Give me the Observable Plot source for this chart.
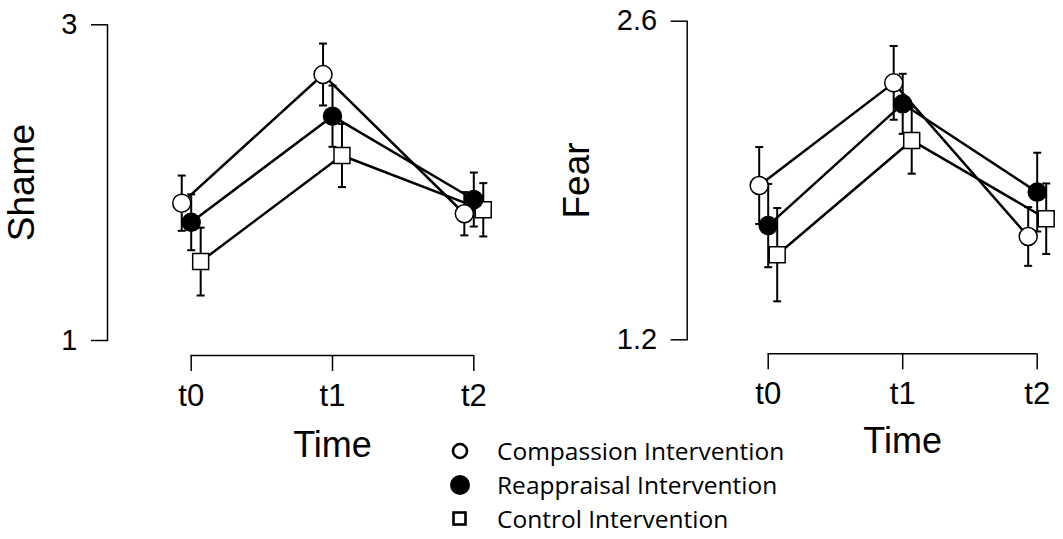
<!DOCTYPE html>
<html><head><meta charset="utf-8">
<script src="https://cdn.jsdelivr.net/npm/d3@7"></script>
<script src="https://cdn.jsdelivr.net/npm/@observablehq/plot@0.6"></script>
<style>
body{margin:0;background:#fff;}
#wrap{position:relative;width:1063px;height:539px;overflow:hidden;background:#fff;}
#left{position:absolute;left:0;top:0;}
#right{position:absolute;left:530px;top:0;}
#legend{position:absolute;left:448px;top:433.5px;font-family:"Open Sans", Lato, sans-serif;font-size:24.5px;color:#000;}
.row{display:flex;align-items:center;height:34px;}
.row svg{flex:none;}
.row span{margin-left:25px;white-space:nowrap;}
</style></head>
<body><div id="wrap"><div id="left"></div><div id="right"></div><div id="legend"></div></div>
<script>
// ---- data ----
const times = ["t0", "t1", "t2"];
const groups = ["Compassion Intervention", "Reappraisal Intervention", "Control Intervention"];

const shameCompassion     = [1.870, 2.685, 1.803];
const shameCompassionSE   = [0.175, 0.196, 0.137];
const shameReappraisal    = [1.749, 2.421, 1.893];
const shameReappraisalSE  = [0.177, 0.194, 0.171];
const shameControl        = [1.500, 2.172, 1.828];
const shameControlSE      = [0.215, 0.200, 0.169];

const fearCompassion      = [1.878, 2.329, 1.654];
const fearCompassionSE    = [0.169, 0.162, 0.129];
const fearReappraisal     = [1.702, 2.237, 1.849];
const fearReappraisalSE   = [0.183, 0.132, 0.173];
const fearControl         = [1.574, 2.076, 1.732];
const fearControlSE       = [0.205, 0.146, 0.155];

const shameTicks = [1, 3];
const fearTicks = [1.2, 2.6];

// ---- build tables ----
const dodge = [-0.067, 0, 0.067];
function table(series) {
  const rows = [];
  series.forEach(([means, ses], g) => {
    means.forEach((m, i) => rows.push({group: groups[g], g, t: i, xd: i + dodge[g], mean: m, se: ses[i]}));
  });
  return rows;
}
const shameRows = table([[shameCompassion, shameCompassionSE], [shameReappraisal, shameReappraisalSE], [shameControl, shameControlSE]]);
const fearRows = table([[fearCompassion, fearCompassionSE], [fearReappraisal, fearReappraisalSE], [fearControl, fearControlSE]]);

const cap = {draw(ctx, size) { const w = Math.sqrt(size / Math.PI); ctx.moveTo(-w, 0); ctx.lineTo(w, 0); }};

function panel({rows, ticks, yLabel, width, marginLeft, marginTop, marginBottom, xRange, axisDy, labelDx, timeDy}) {
  return Plot.plot({
    width, height: 539, marginLeft, marginTop, marginBottom, marginRight: 0,
    style: {fontFamily: "'Liberation Sans', Arial, sans-serif", background: "white", color: "black", overflow: "visible"},
    x: {domain: [0, 2], range: xRange, axis: null, label: null},
    y: {domain: ticks, axis: null, label: null},
    marks: [
      Plot.frame({anchor: "left", strokeWidth: 1.5}),
      Plot.axisY({ticks, tickFormat: d => String(d), label: null, tickSize: 16, tickPadding: 14, fontSize: 29, strokeWidth: 1.5}),
      Plot.ruleY([ticks[0]], {x1: 0, x2: 2, dy: axisDy, strokeWidth: 1.5}),
      Plot.axisX({ticks: [0, 1, 2], tickFormat: i => times[i], label: null, tickSize: 16, tickPadding: 12, dy: axisDy, fontSize: 31, strokeWidth: 1.5}),
      Plot.text([yLabel], {frameAnchor: "left", textAnchor: "middle", rotate: -90, dx: labelDx, fontSize: 37, text: d => d}),
      Plot.text(["Time"], {x: 1, y: ticks[0], dy: timeDy, fontSize: 36, text: d => d}),
      Plot.line(rows, {x: "xd", y: "mean", z: "group", stroke: "black", strokeWidth: 2.5}),
      Plot.ruleX(rows, {x: "xd", y1: d => d.mean - d.se, y2: d => d.mean + d.se, stroke: "black", strokeWidth: 2}),
      Plot.dot(rows, {x: "xd", y: d => d.mean + d.se, symbol: cap, r: 4, stroke: "black", strokeWidth: 2}),
      Plot.dot(rows, {x: "xd", y: d => d.mean - d.se, symbol: cap, r: 4, stroke: "black", strokeWidth: 2}),
      Plot.dot(rows.filter(d => d.g === 2), {x: "xd", y: "mean", symbol: "square", r: 9, fill: "white", stroke: "black", strokeWidth: 1.5}),
      Plot.dot(rows.filter(d => d.g === 1), {x: "xd", y: "mean", symbol: "circle", r: 9, fill: "black", stroke: "black", strokeWidth: 1.5}),
      Plot.dot(rows.filter(d => d.g === 0), {x: "xd", y: "mean", symbol: "circle", r: 9, fill: "white", stroke: "black", strokeWidth: 1.5})
    ]
  });
}

document.getElementById("left").append(panel({
  rows: shameRows, ticks: shameTicks, yLabel: "Shame", width: 530,
  marginLeft: 107, marginTop: 24.3, marginBottom: 539 - 340,
  xRange: [190.7, 473.3], axisDy: 15, labelDx: -85, timeDy: 105
}));
document.getElementById("right").append(panel({
  rows: fearRows, ticks: fearTicks, yLabel: "Fear", width: 533,
  marginLeft: 156.7, marginTop: 20.7, marginBottom: 539 - 339.3,
  xRange: [237.7, 506.7], axisDy: 14, labelDx: -110, timeDy: 102
}));

// ---- legend ----
const legendSymbols = [
  '<circle cx="12" cy="12" r="7" fill="white" stroke="black" stroke-width="2.6"/>',
  '<circle cx="12" cy="12" r="10" fill="black"/>',
  '<rect x="5.5" y="5.5" width="12" height="12" fill="white" stroke="black" stroke-width="2.6"/>'
];
const legend = document.getElementById("legend");
groups.forEach((g, i) => {
  const row = document.createElement("div");
  row.className = "row";
  row.innerHTML = `<svg width="24" height="24">${legendSymbols[i]}</svg><span>${g}</span>`;
  legend.append(row);
});
</script>
</body></html>
